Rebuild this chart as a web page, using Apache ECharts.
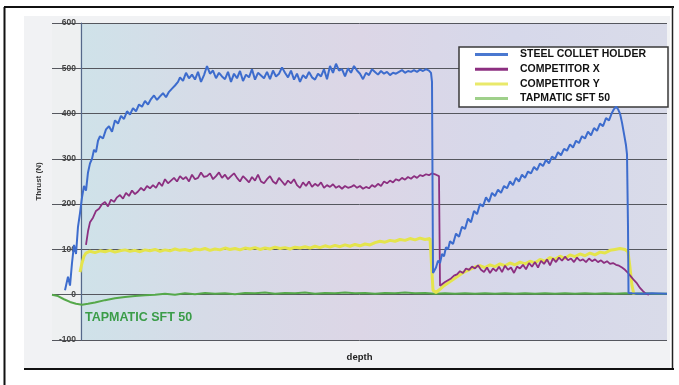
<!DOCTYPE html>
<html>
<head>
<meta charset="utf-8">
<script src="https://cdn.jsdelivr.net/npm/echarts@6/dist/echarts.min.js"></script>
<style>
html,body{margin:0;padding:0;background:#ffffff;}
#chart{width:679px;height:385px;}
</style>
</head>
<body>
<div id="chart"></div>
<script>
// ---- data (depth in arbitrary units, thrust in N) ----
const seriesNames = ["STEEL COLLET HOLDER", "COMPETITOR X", "COMPETITOR Y", "TAPMATIC SFT 50"];
const yTickMin = -100, yTickMax = 600, yTickStep = 100;

const steelCollet = [
 [13,10],[16,40],[18,20],[20,70],[22,110],[24,90],[26,150],[28,180],[30,215],[32,240],[34,230],[36,270],[38,290],[40,300],[42,320],[44,315],[46,340],[48,350],[51,345],[54,365],[57,372],[60,360],[63,385],[66,378],[69,395],[72,388],[75,405],[78,398],[81,412],[84,405],[87,420],[90,415],[93,428],[96,420],[99,432],[102,440],[105,430],[108,438],[111,445],[114,436],[117,448],[120,455],[123,462],[126,470],[128,480],[131,472],[134,490],[137,478],[140,486],[143,475],[146,492],[149,470],[152,485],[155,505],[158,488],[161,495],[164,478],[167,490],[170,482],[173,476],[176,492],[179,470],[182,488],[185,478],[188,494],[191,472],[194,486],[197,480],[200,498],[203,475],[206,490],[209,484],[212,478],[215,492],[218,476],[221,495],[224,482],[227,488],[230,502],[233,490],[236,480],[239,495],[242,475],[245,488],[248,470],[251,485],[254,478],[257,492],[260,480],[263,475],[266,488],[269,482],[272,498],[275,476],[278,505],[281,490],[284,510],[287,495],[290,498],[293,482],[296,500],[299,490],[302,505],[305,495],[308,488],[311,476],[314,490],[317,485],[320,498],[323,492],[326,486],[329,494],[332,488],[335,492],[338,485],[341,490],[344,488],[347,492],[350,496],[353,490],[356,494],[359,492],[362,496],[365,492],[368,497],[371,494],[374,498],[377,495],[379,490],[380,470],[381,48],
 [382,45],[384,60],[386,75],[388,70],[390,90],[392,85],[394,105],[396,100],[398,118],[401,112],[404,135],[407,128],[410,150],[413,145],[416,168],[419,160],[422,185],[425,178],[428,200],[431,195],[434,215],[437,205],[440,225],[443,218],[446,232],[449,225],[452,240],[455,235],[458,250],[461,242],[464,258],[467,250],[470,265],[473,258],[476,272],[479,268],[482,282],[485,275],[488,290],[491,284],[494,298],[497,290],[500,305],[503,300],[506,315],[509,308],[512,322],[515,318],[518,332],[521,325],[524,340],[527,335],[530,350],[533,345],[536,360],[539,352],[542,368],[545,362],[548,378],[551,372],[554,390],[557,385],[560,402],[562,410],[564,415],[566,410],[568,400],[570,380],[572,355],[574,330],[575,310],[576,150],[576.5,4],[580,3],[590,2],[600,3],[615,2]
];

const competitorX = [
 [34,110],[36,140],[38,160],[41,170],[44,185],[47,190],[50,200],[53,205],[56,195],[59,210],[62,205],[65,215],[68,220],[71,212],[74,225],[77,218],[80,230],[83,222],[86,228],[89,236],[92,230],[95,240],[98,235],[101,242],[104,236],[107,248],[110,240],[113,255],[116,246],[119,252],[122,258],[125,250],[128,262],[131,255],[134,260],[137,250],[140,265],[143,255],[146,258],[149,270],[152,260],[155,262],[158,268],[161,255],[164,262],[167,270],[170,258],[173,265],[176,255],[179,262],[182,268],[185,258],[188,250],[191,262],[194,255],[197,248],[200,260],[203,252],[206,265],[209,250],[212,246],[215,255],[218,262],[221,250],[224,245],[227,258],[230,250],[233,242],[236,252],[239,246],[242,255],[245,242],[248,236],[251,248],[254,240],[257,250],[260,238],[263,245],[266,240],[269,248],[272,236],[275,242],[278,238],[281,244],[284,236],[287,240],[290,234],[293,240],[296,236],[299,238],[302,242],[305,236],[308,240],[311,234],[314,238],[317,235],[320,242],[323,238],[326,245],[329,240],[332,250],[335,246],[338,252],[341,248],[344,255],[347,252],[350,258],[353,254],[356,260],[359,256],[362,262],[365,258],[368,264],[371,262],[374,266],[377,264],[380,268],[384,265],[387,262],[388,20],
 [390,22],[393,28],[396,32],[399,36],[402,42],[405,45],[408,52],[411,48],[414,58],[417,55],[420,62],[423,58],[426,65],[429,55],[432,50],[435,60],[438,48],[441,58],[444,52],[447,62],[450,50],[453,64],[456,55],[459,60],[462,48],[465,62],[468,58],[471,66],[474,56],[477,70],[480,62],[483,72],[486,60],[489,75],[492,68],[495,78],[498,65],[501,80],[504,72],[507,82],[510,75],[513,84],[516,76],[519,80],[522,72],[525,82],[528,75],[531,78],[534,72],[537,80],[540,74],[543,78],[546,72],[549,76],[552,70],[555,74],[558,68],[561,70],[564,66],[567,64],[570,60],[573,55],[576,48],[579,40],[582,32],[585,25],[588,15],[591,8],[594,2],[597,0]
];

const competitorY = [
 [28,50],[30,70],[32,85],[34,92],[38,96],[43,93],[48,97],[53,95],[58,98],[63,94],[68,97],[73,99],[78,96],[83,98],[88,95],[93,99],[98,97],[103,100],[108,96],[113,99],[118,97],[123,101],[128,98],[133,100],[138,97],[143,101],[148,99],[153,102],[158,98],[163,101],[168,99],[173,103],[178,100],[183,102],[188,99],[193,103],[198,101],[203,104],[208,100],[213,103],[218,101],[223,105],[228,102],[233,104],[238,101],[243,105],[248,103],[253,106],[258,103],[263,107],[268,104],[273,108],[278,105],[283,109],[288,106],[293,110],[298,107],[303,111],[308,108],[313,112],[318,110],[323,115],[328,118],[333,116],[338,120],[343,118],[348,122],[353,120],[358,124],[363,121],[368,125],[373,122],[378,124],[380,120],[381,10],
 [384,5],[388,12],[392,20],[396,26],[400,32],[404,38],[408,44],[412,50],[416,54],[420,58],[424,62],[428,64],[433,60],[438,66],[443,62],[448,68],[453,64],[458,70],[463,66],[468,72],[473,68],[478,74],[483,70],[488,78],[493,74],[498,82],[503,78],[508,85],[513,80],[518,88],[523,84],[528,90],[533,86],[538,92],[543,88],[548,94],[553,92],[558,98],[563,100],[568,102],[573,100],[576,95],[578,60],[580,20],[582,0]
];

const tapmatic = [
 [0,0],[6,-3],[12,-10],[18,-16],[24,-20],[30,-22],[36,-20],[43,-17],[53,-12],[63,-8],[73,-5],[83,-3],[93,-1],[103,0],[113,2],[123,0],[133,3],[143,1],[153,4],[163,2],[173,3],[183,1],[193,4],[203,3],[213,5],[223,2],[233,4],[243,3],[253,5],[263,2],[273,4],[283,3],[293,5],[303,3],[313,4],[323,2],[333,4],[343,3],[353,5],[363,3],[373,4],[383,2],[393,3],[403,2],[413,3],[423,2],[433,3],[443,2],[453,3],[463,2],[473,3],[483,2],[493,3],[503,2],[513,3],[523,2],[533,3],[543,2],[553,3],[563,2],[573,3],[583,2],[593,3],[603,2],[615,2]
];

const annotationText = "TAPMATIC SFT 50";

const colors = {
  steel: "#3d6ccd",
  compX: "#8c2f80",
  compY: "#e4e44c",
  tap: "#55a84a",
  tapLegend: "#9fd08a"
};

const chart = echarts.init(document.getElementById('chart'), null, {renderer: 'canvas'});

const plotBg = new echarts.graphic.LinearGradient(0, 0, 1, 0, [
  {offset: 0, color: '#eef0f1'},
  {offset: 0.045, color: '#eef0f1'},
  {offset: 0.048, color: '#cfe2e9'},
  {offset: 0.25, color: '#d6dbe7'},
  {offset: 0.5, color: '#dcd6e6'},
  {offset: 0.75, color: '#d6d8ea'},
  {offset: 1, color: '#d9dbe9'}
]);

chart.setOption({
  animation: false,
  backgroundColor: '#ffffff',
  graphic: [
    {type: 'rect', z: -10, shape: {x: 24, y: 16, width: 646, height: 352}, style: {fill: '#f1f2f4'}},
    {type: 'line', z: 100, shape: {x1: 4, y1: 7, x2: 674, y2: 7}, style: {stroke: '#111', lineWidth: 2}},
    {type: 'line', z: 100, shape: {x1: 4.5, y1: 7, x2: 4.5, y2: 385}, style: {stroke: '#111', lineWidth: 2}},
    {type: 'line', z: 100, shape: {x1: 672.5, y1: 7, x2: 672.5, y2: 369}, style: {stroke: '#222', lineWidth: 1.5}},
    {type: 'line', z: 100, shape: {x1: 24, y1: 369, x2: 674, y2: 369}, style: {stroke: '#111', lineWidth: 2}},
    {type: 'text', z: 50, left: 85, top: 311, style: {text: annotationText, fill: '#3a9c48', font: 'bold 12.5px "Liberation Sans", Arial, sans-serif'}}
  ],
  grid: {left: 52, right: 12, top: 23, bottom: 45, show: true, backgroundColor: plotBg, borderWidth: 0},
  legend: {
    orient: 'vertical',
    left: 459, top: 47,
    padding: [2, 22, 3, 16],
    itemGap: 3.7,
    itemWidth: 33, itemHeight: 3,
    icon: 'rect',
    backgroundColor: '#ffffff',
    borderColor: '#3a3a3a', borderWidth: 1.5,
    textStyle: {color: '#111', fontWeight: 'bold', fontSize: 10.5, fontFamily: '"Liberation Sans", Arial, sans-serif', lineHeight: 10, padding: [0, 0, 0, 7]},
    data: [
      {name: seriesNames[0], itemStyle: {color: '#4a78d0'}},
      {name: seriesNames[1], itemStyle: {color: colors.compX}},
      {name: seriesNames[2], itemStyle: {color: '#e9e96a'}},
      {name: seriesNames[3], itemStyle: {color: colors.tapLegend}}
    ]
  },
  xAxis: {
    type: 'value', min: 0, max: 615,
    name: 'depth', nameLocation: 'middle', nameGap: 12,
    nameTextStyle: {color: '#222', fontWeight: 'bold', fontSize: 9.5, fontFamily: '"Liberation Sans", Arial, sans-serif'},
    axisLine: {show: false}, axisTick: {show: false}, axisLabel: {show: false}, splitLine: {show: false}
  },
  yAxis: {
    type: 'value', min: yTickMin, max: yTickMax, interval: yTickStep,
    offset: -29,
    name: 'Thrust (N)', nameLocation: 'middle', nameGap: 38,
    nameTextStyle: {color: '#333', fontWeight: 'bold', fontSize: 8, fontFamily: '"Liberation Sans", Arial, sans-serif'},
    axisLine: {show: true, lineStyle: {color: '#55688a', width: 1.2}},
    axisTick: {show: false},
    axisLabel: {color: '#444', fontWeight: 'bold', fontSize: 8.5, margin: 5, fontFamily: '"Liberation Sans", Arial, sans-serif'},
    splitLine: {show: true, lineStyle: {color: '#55575e', width: 1}}
  },
  series: [
    {name: seriesNames[3], type: 'line', data: tapmatic, showSymbol: false, z: 3, lineStyle: {color: colors.tap, width: 2}, itemStyle: {color: colors.tap}},
    {name: seriesNames[2], type: 'line', data: competitorY, showSymbol: false, z: 4, lineStyle: {color: colors.compY, width: 3}, itemStyle: {color: colors.compY}},
    {name: seriesNames[1], type: 'line', data: competitorX, showSymbol: false, z: 5, lineStyle: {color: colors.compX, width: 1.8}, itemStyle: {color: colors.compX}},
    {name: seriesNames[0], type: 'line', data: steelCollet, showSymbol: false, z: 6, lineStyle: {color: colors.steel, width: 2}, itemStyle: {color: colors.steel}}
  ]
});
</script>
</body>
</html>
